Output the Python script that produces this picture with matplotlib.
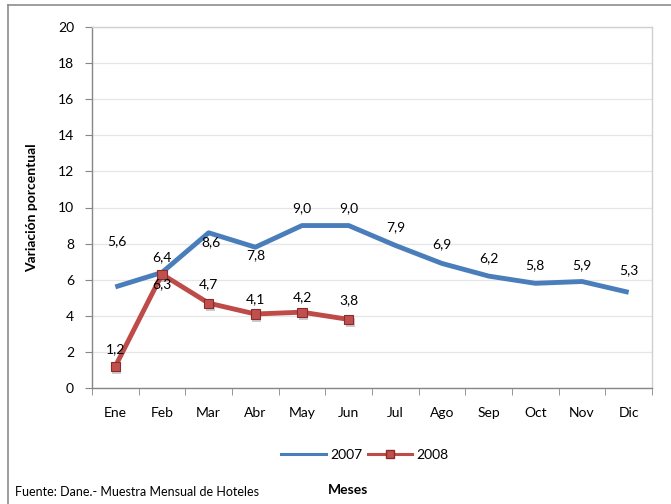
import matplotlib
matplotlib.use("Agg")
import matplotlib.pyplot as plt
from matplotlib.lines import Line2D
import matplotlib.patheffects as pe
import numpy as np

months = ["Ene", "Feb", "Mar", "Abr", "May", "Jun", "Jul", "Ago", "Sep", "Oct", "Nov", "Dic"]
v2007 = [5.6, 6.4, 8.6, 7.8, 9.0, 9.0, 7.9, 6.9, 6.2, 5.8, 5.9, 5.3]
v2008 = [1.2, 6.3, 4.7, 4.1, 4.2, 3.8]
yticks = [0, 2, 4, 6, 8, 10, 12, 14, 16, 18, 20]

# label offsets (pixels) — styling only
off2007 = [(2, 46), (0, 15), (2, -9), (0, -8), (0, 17), (0, 17), (0, 18), (0, 19), (0, 18), (0, 18), (0, 16), (0, 22)]
off2008 = [(0, 17), (0, -10), (0, 19), (0, 15), (0, 15), (0, 19)]

plt.rcParams['font.family'] = ['Lato', 'DejaVu Sans']

fig = plt.figure(figsize=(6.71, 5.04), dpi=100)
ax = fig.add_axes([92/671, 1-388/504, (652-92)/671, (388-27)/504])

blue = "#4A7EBB"
red = "#BE4B48"

x7 = np.arange(len(v2007))
x8 = np.arange(len(v2008))
ax.plot(x7, v2007, color=blue, lw=3.5, solid_capstyle='butt', zorder=3)
ax.plot(x8, v2008, color=red, lw=3.5, zorder=4)
ax.plot(x8, v2008, ls='none', marker='s', ms=6.5, mfc="#C0504D", mec="#8B2C2A", mew=0.8,
        zorder=4.5, path_effects=[pe.SimplePatchShadow(offset=(1, -2.5), shadow_rgbFace='#555555', alpha=0.3), pe.Normal()])

for i, v in enumerate(v2007):
    ax.annotate(f"{v:.1f}".replace('.', ','), (x7[i], v), xytext=off2007[i], textcoords='offset pixels',
                ha='center', va='center', fontsize=10, color='black', zorder=5)
for i, v in enumerate(v2008):
    ax.annotate(f"{v:.1f}".replace('.', ','), (x8[i], v), xytext=off2008[i], textcoords='offset pixels',
                ha='center', va='center', fontsize=10, color='black', zorder=5)

ax.set_xlim(-0.5, len(months) - 0.5)
ax.set_ylim(0, 20)
ax.set_yticks(yticks)
ax.set_yticklabels([str(t) for t in yticks], fontsize=10)
ax.set_xticks(x7)
ax.set_xticklabels(months, fontsize=10)
ax.set_xticks(np.arange(-0.5, len(months)), minor=True)
ax.tick_params(axis='x', which='major', length=0, pad=14)
ax.tick_params(axis='x', which='minor', length=5, color='#868686', direction='out')
ax.tick_params(axis='y', length=5, color='#868686', direction='out', pad=8)

ax.grid(axis='y', color='#E6E6E6', lw=0.9, zorder=0)
ax.set_axisbelow(True)
for s in ['left', 'bottom']:
    ax.spines[s].set_color('#868686')
    ax.spines[s].set_linewidth(1.0)
for s in ['top', 'right']:
    ax.spines[s].set_color('#D0D0D0')
    ax.spines[s].set_linewidth(1.0)

ax.set_ylabel("Variación porcentual", fontsize=10, fontweight='bold')
ax.yaxis.set_label_coords(-0.097, 0.5)

handles = [Line2D([0], [0], color=blue, lw=2.2),
           Line2D([0], [0], color=red, lw=2.2, marker='s', ms=6, mfc="#C0504D", mec="#8B2C2A")]
fig.legend(handles, ["2007", "2008"], loc='center', bbox_to_anchor=(365/671, 1-455/504),
           ncol=2, frameon=False, fontsize=10, handlelength=3.2, columnspacing=0.4, handletextpad=0.3)

fig.text(348/671, 1-490/504, "Meses", ha='center', va='center', fontsize=10, fontweight='bold')
fig.text(15/671, 1-492/504, "Fuente: Dane.- Muestra Mensual de Hoteles", ha='left', va='center', fontsize=9)

# outer chart frame
fig.add_artist(Line2D([8/671, 1.0], [1-5/504, 1-5/504], color='#8C8C8C', lw=1.2, transform=fig.transFigure))
fig.add_artist(Line2D([8/671, 8/671], [0, 1-5/504], color='#8C8C8C', lw=1.2, transform=fig.transFigure))

fig.savefig("out.png", dpi=100)
